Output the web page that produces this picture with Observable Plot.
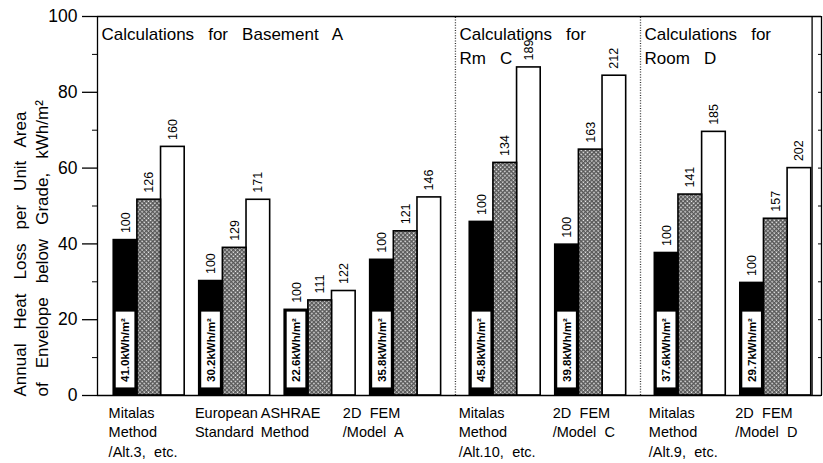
<!DOCTYPE html>
<html>
<head>
<meta charset="utf-8">
<script src="https://cdn.jsdelivr.net/npm/d3@7"></script>
<script src="https://cdn.jsdelivr.net/npm/@observablehq/plot@0.6"></script>
<style>
  body { margin: 0; background: #fff; }
  #chart svg { display: block; }
  /* titles are set with wide word gaps, category labels a bit tighter */
  #chart g[font-size="17"] text { word-spacing: 0.55em; }
  #chart g[font-size="14.5"] text { word-spacing: 0.3em; }
</style>
</head>
<body>
<div id="chart"></div>
<script>
// Calculation methods (x categories), grouped by the space being modelled
const methods = [
  "Mitalas\nMethod\n/Alt.3, etc.",
  "European\nStandard",
  "ASHRAE\nMethod",
  "2D FEM\n/Model A",
  "Mitalas\nMethod\n/Alt.10, etc.",
  "2D FEM\n/Model C",
  "Mitalas\nMethod\n/Alt.9, etc.",
  "2D FEM\n/Model D"
];
const groupIndex = [0, 0, 0, 0, 1, 1, 2, 2];
const groupTitles = [
  "Calculations for Basement A",
  "Calculations for\nRm C",
  "Calculations for\nRoom D"
];

// Reference case heat loss, kWh/m² (indexed as 100)
const baseLoss = [41.0, 30.2, 22.6, 35.8, 45.8, 39.8, 37.6, 29.7];
// Other cases, as a percentage of the reference case
const midPct = [126, 129, 111, 121, 134, 163, 141, 157];
const highPct = [160, 171, 122, 146, 189, 212, 185, 202];

const yTicks = [0, 20, 40, 60, 80, 100];
const yMinorTicks = [10, 30, 50, 70, 90];
const yFrameTicks = [0, 10, 20, 30, 40, 50, 60, 70, 80, 90, 100];
const yTitle = "Annual Heat Loss per Unit Area\nof Envelope below Grade, kWh/m²";

// Horizontal layout in slot units: one slot per method, a wider gap between groups
const groupGap = 0.165;
const clusterWidth = 0.83;
const barWidth = clusterWidth / 3;
const slotLeft = methods.map((m, i) => i + groupIndex[i] * groupGap);
const xMin = -0.19;
const xMax = 8.28;
const frameRight = slotLeft[slotLeft.length - 1] + clusterWidth + 0.01;
// group separators sit halfway between neighbouring clusters
const dividers = [];
for (let i = 1; i < methods.length; i++) {
  if (groupIndex[i] !== groupIndex[i - 1]) {
    dividers.push((slotLeft[i - 1] + clusterWidth + slotLeft[i]) / 2);
  }
}
const groupStart = [xMin, ...dividers];
// small leftward nudges so the long labels do not collide
const labelNudge = [0.06, 0.05, 0.28, 0.32, 0.13, 0.03, 0.07, 0.06];

const series = ["base", "mid", "high"];
const bars = [];
methods.forEach((m, i) => {
  const pct = [100, midPct[i], highPct[i]];
  series.forEach((s, j) => {
    bars.push({
      method: m,
      series: s,
      x1: slotLeft[i] + j * barWidth,
      x2: slotLeft[i] + (j + 1) * barWidth,
      value: baseLoss[i] * pct[j] / 100,
      pct: pct[j],
      base: baseLoss[i]
    });
  });
});
const baseBars = bars.filter(d => d.series === "base");

const chart = Plot.plot({
  width: 823,
  height: 463,
  marginTop: 16,
  marginBottom: 68,
  marginLeft: 97,
  marginRight: 2,
  x: { type: "linear", domain: [xMin, xMax], axis: null },
  y: { domain: [0, 100], axis: null },
  style: {
    fontFamily: "'Liberation Sans', Arial, Helvetica, sans-serif",
    fontSize: "15px",
    color: "black",
    background: "white"
  },
  marks: [
    // group separators
    Plot.ruleX(dividers, { y1: 0, y2: 100, stroke: "#333", strokeWidth: 1.3, strokeDasharray: "1,1.6" }),
    // bars
    Plot.rect(bars.filter(d => d.series === "high"), { x1: "x1", x2: "x2", y1: 0, y2: "value", fill: "white", stroke: "black", strokeWidth: 1.6 }),
    Plot.rect(bars.filter(d => d.series === "mid"), { x1: "x1", x2: "x2", y1: 0, y2: "value", fill: "url(#hatch)", stroke: "black", strokeWidth: 1.6 }),
    Plot.rect(baseBars, { x1: "x1", x2: "x2", y1: 0, y2: "value", fill: "black", stroke: "black", strokeWidth: 1.6 }),
    // absolute value of the reference case, in a white box inside the black bar
    Plot.rect(baseBars, { x1: "x1", x2: "x2", y1: 2, y2: 22, insetLeft: 2.5, insetRight: 2.5, fill: "white" }),
    Plot.text(baseBars, {
      x: d => (d.x1 + d.x2) / 2, y: 12,
      text: d => `${d.base.toFixed(1)}kWh/m²`,
      rotate: -90, textAnchor: "middle", lineAnchor: "middle",
      fontSize: 11.5, fontWeight: 600, fill: "black"
    }),
    // percentage labels above the bars
    Plot.text(bars, {
      x: d => (d.x1 + d.x2) / 2, y: "value",
      text: d => String(d.pct),
      rotate: -90, textAnchor: "start", lineAnchor: "middle",
      dy: -7, fontSize: 12.5
    }),
    // frame
    Plot.ruleY([0, 100], { x1: xMin, x2: xMax, stroke: "black", strokeWidth: 1.5 }),
    Plot.ruleX([xMin, frameRight, xMax], { y1: 0, y2: 100, stroke: "black", strokeWidth: 1.3 }),
    // left axis
    Plot.axisY(yTicks, { anchor: "left", tickSize: 15, tickPadding: 5, fontSize: 17.5, label: null, strokeWidth: 1.3 }),
    Plot.axisY(yMinorTicks, { anchor: "left", tickSize: 5, tickFormat: () => "", label: null }),
    // inward ticks on the right edge
    Plot.axisY(yFrameTicks, { anchor: "right", tickSize: 4, dx: -4, tickFormat: () => "", label: null }),
    // y title (two lines, rotated)
    Plot.text([yTitle], {
      frameAnchor: "bottom-left", rotate: -90, textAnchor: "start", lineAnchor: "middle",
      dx: -68, dy: 1, fontSize: 17, lineHeight: 1.3
    }),
    // group titles
    Plot.text(groupTitles, {
      x: (d, i) => groupStart[i], y: 100,
      textAnchor: "start", lineAnchor: "top", dx: 4, dy: 7,
      fontSize: 17, lineHeight: 1.38
    }),
    // method labels under the clusters
    Plot.text(methods, {
      x: (d, i) => slotLeft[i] - labelNudge[i], y: 0,
      textAnchor: "start", lineAnchor: "top", dy: 8,
      fontSize: 14.5, lineHeight: 1.36
    })
  ]
});

// crosshatch fill for the middle bars
const defs = d3.select(chart).insert("defs", ":first-child");
const pat = defs.append("pattern")
  .attr("id", "hatch")
  .attr("patternUnits", "userSpaceOnUse")
  .attr("width", 3)
  .attr("height", 3)
  .attr("patternTransform", "rotate(45)");
pat.append("rect").attr("width", 3).attr("height", 3).attr("fill", "#575757");
pat.append("rect").attr("x", 0.5).attr("y", 0.5).attr("width", 1.5).attr("height", 1.5).attr("fill", "#f2f2f2");

document.getElementById("chart").appendChild(chart);
</script>
</body>
</html>
